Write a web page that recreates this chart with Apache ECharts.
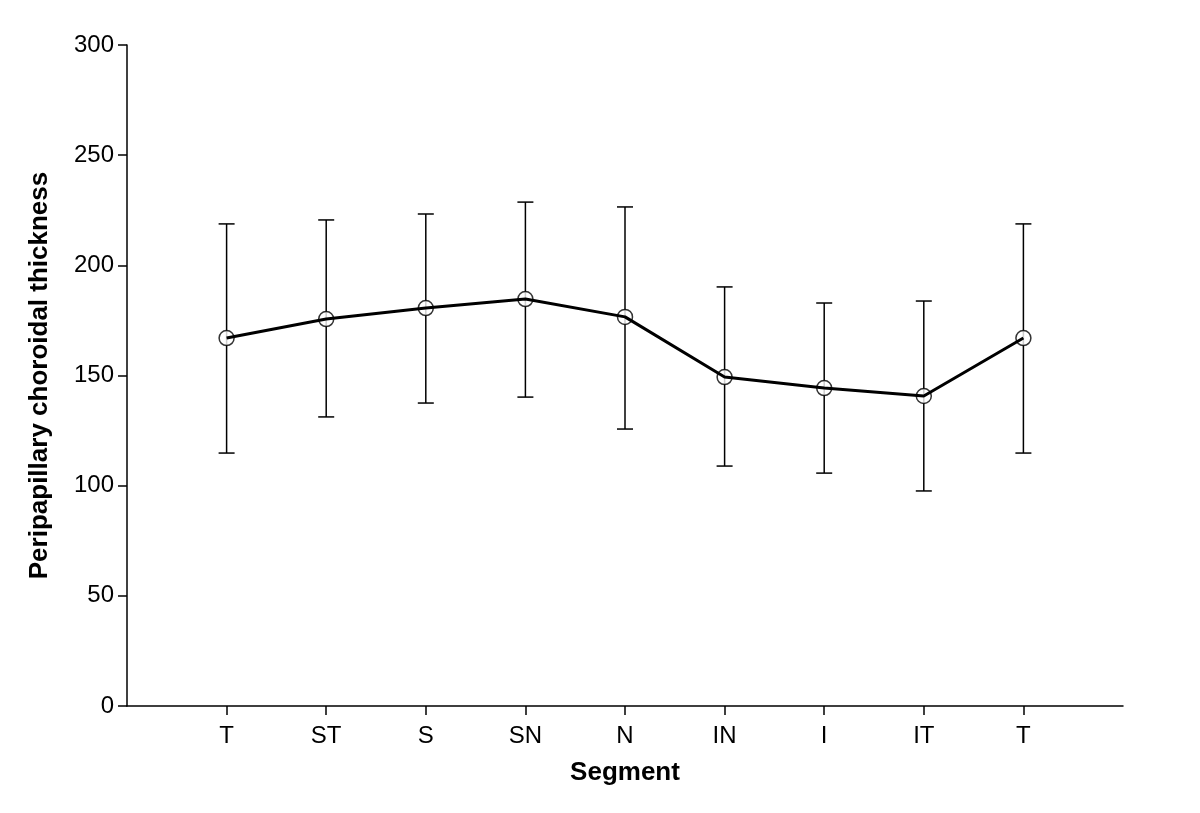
<!DOCTYPE html>
<html>
<head>
<meta charset="utf-8">
<script src="https://cdn.jsdelivr.net/npm/echarts@6/dist/echarts.min.js"></script>
<style>
  html, body { margin: 0; padding: 0; background: #fff; }
  #chart { width: 1200px; height: 813px; }
</style>
</head>
<body>
<div id="chart"></div>
<script>
// segments around the disc
var segments = ['T', 'ST', 'S', 'SN', 'N', 'IN', 'I', 'IT', 'T'];
var meanThickness = [167.0, 175.6, 180.6, 184.7, 176.6, 149.3, 144.3, 140.7, 167.0];
var upperBar = [218.8, 220.6, 223.3, 228.7, 226.5, 190.2, 182.9, 183.8, 218.8];
var lowerBar = [114.8, 131.2, 137.5, 140.2, 125.7, 108.9, 105.7, 97.6, 114.8];
var positions = [1, 2, 3, 4, 5, 6, 7, 8, 9];
var yTicks = [0, 50, 100, 150, 200, 250, 300];

var font = 'Liberation Sans, Arial, sans-serif';

var lineData = positions.map(function (p, i) { return [p, meanThickness[i]]; });
var barData = positions.map(function (p, i) { return [p, lowerBar[i], upperBar[i]]; });

var chart = echarts.init(document.getElementById('chart'));
chart.setOption({
  animation: false,
  backgroundColor: '#fff',
  grid: { left: 127, right: 77, top: 45, bottom: 107 },
  xAxis: {
    type: 'value',
    min: 0,
    max: 10,
    interval: 1,
    name: 'Segment',
    nameLocation: 'middle',
    nameGap: 54,
    nameTextStyle: { fontFamily: font, fontSize: 26, fontWeight: 'bold', color: '#000' },
    splitLine: { show: false },
    axisLine: { lineStyle: { color: '#000', width: 1.5 } },
    axisTick: { length: 9, customValues: positions, lineStyle: { color: '#000', width: 1.5 } },
    axisLabel: {
      customValues: positions,
      margin: 18,
      fontFamily: font, fontSize: 24, color: '#000',
      formatter: function (v) { return segments[v - 1] || ''; }
    }
  },
  yAxis: {
    type: 'value',
    min: 0,
    max: 300,
    interval: 50,
    name: 'Peripapillary choroidal thickness',
    nameLocation: 'middle',
    nameGap: 74,
    nameTextStyle: { fontFamily: font, fontSize: 26, fontWeight: 'bold', color: '#000' },
    splitLine: { show: false },
    axisLine: { show: true, lineStyle: { color: '#000', width: 1.5 } },
    axisTick: { show: true, length: 9, lineStyle: { color: '#000', width: 1.5 } },
    axisLabel: {
      margin: 13,
      fontFamily: font, fontSize: 24, color: '#000',
      formatter: function (v) { return yTicks.indexOf(v) >= 0 ? String(v) : ''; }
    }
  },
  series: [
    {
      // error bars
      type: 'custom',
      data: barData,
      z: 1,
      renderItem: function (params, api) {
        var x = api.value(0);
        var lo = api.coord([x, api.value(1)]);
        var hi = api.coord([x, api.value(2)]);
        var w = 8;
        var st = { stroke: '#000', lineWidth: 1.5 };
        return {
          type: 'group',
          children: [
            { type: 'line', shape: { x1: lo[0], y1: lo[1], x2: hi[0], y2: hi[1] }, style: st },
            { type: 'line', shape: { x1: hi[0] - w, y1: hi[1], x2: hi[0] + w, y2: hi[1] }, style: st },
            { type: 'line', shape: { x1: lo[0] - w, y1: lo[1], x2: lo[0] + w, y2: lo[1] }, style: st }
          ]
        };
      }
    },
    {
      // white fill hides the error bar inside the marker
      type: 'scatter',
      data: lineData,
      z: 2,
      symbol: 'circle',
      symbolSize: 15,
      itemStyle: { color: '#fff' }
    },
    {
      type: 'line',
      data: lineData,
      z: 3,
      symbol: 'none',
      lineStyle: { color: '#000', width: 3 }
    },
    {
      type: 'scatter',
      data: lineData,
      z: 4,
      symbol: 'circle',
      symbolSize: 15,
      itemStyle: { color: 'rgba(255,255,255,0)', borderColor: '#000', borderWidth: 1.5 }
    }
  ]
});
</script>
</body>
</html>
